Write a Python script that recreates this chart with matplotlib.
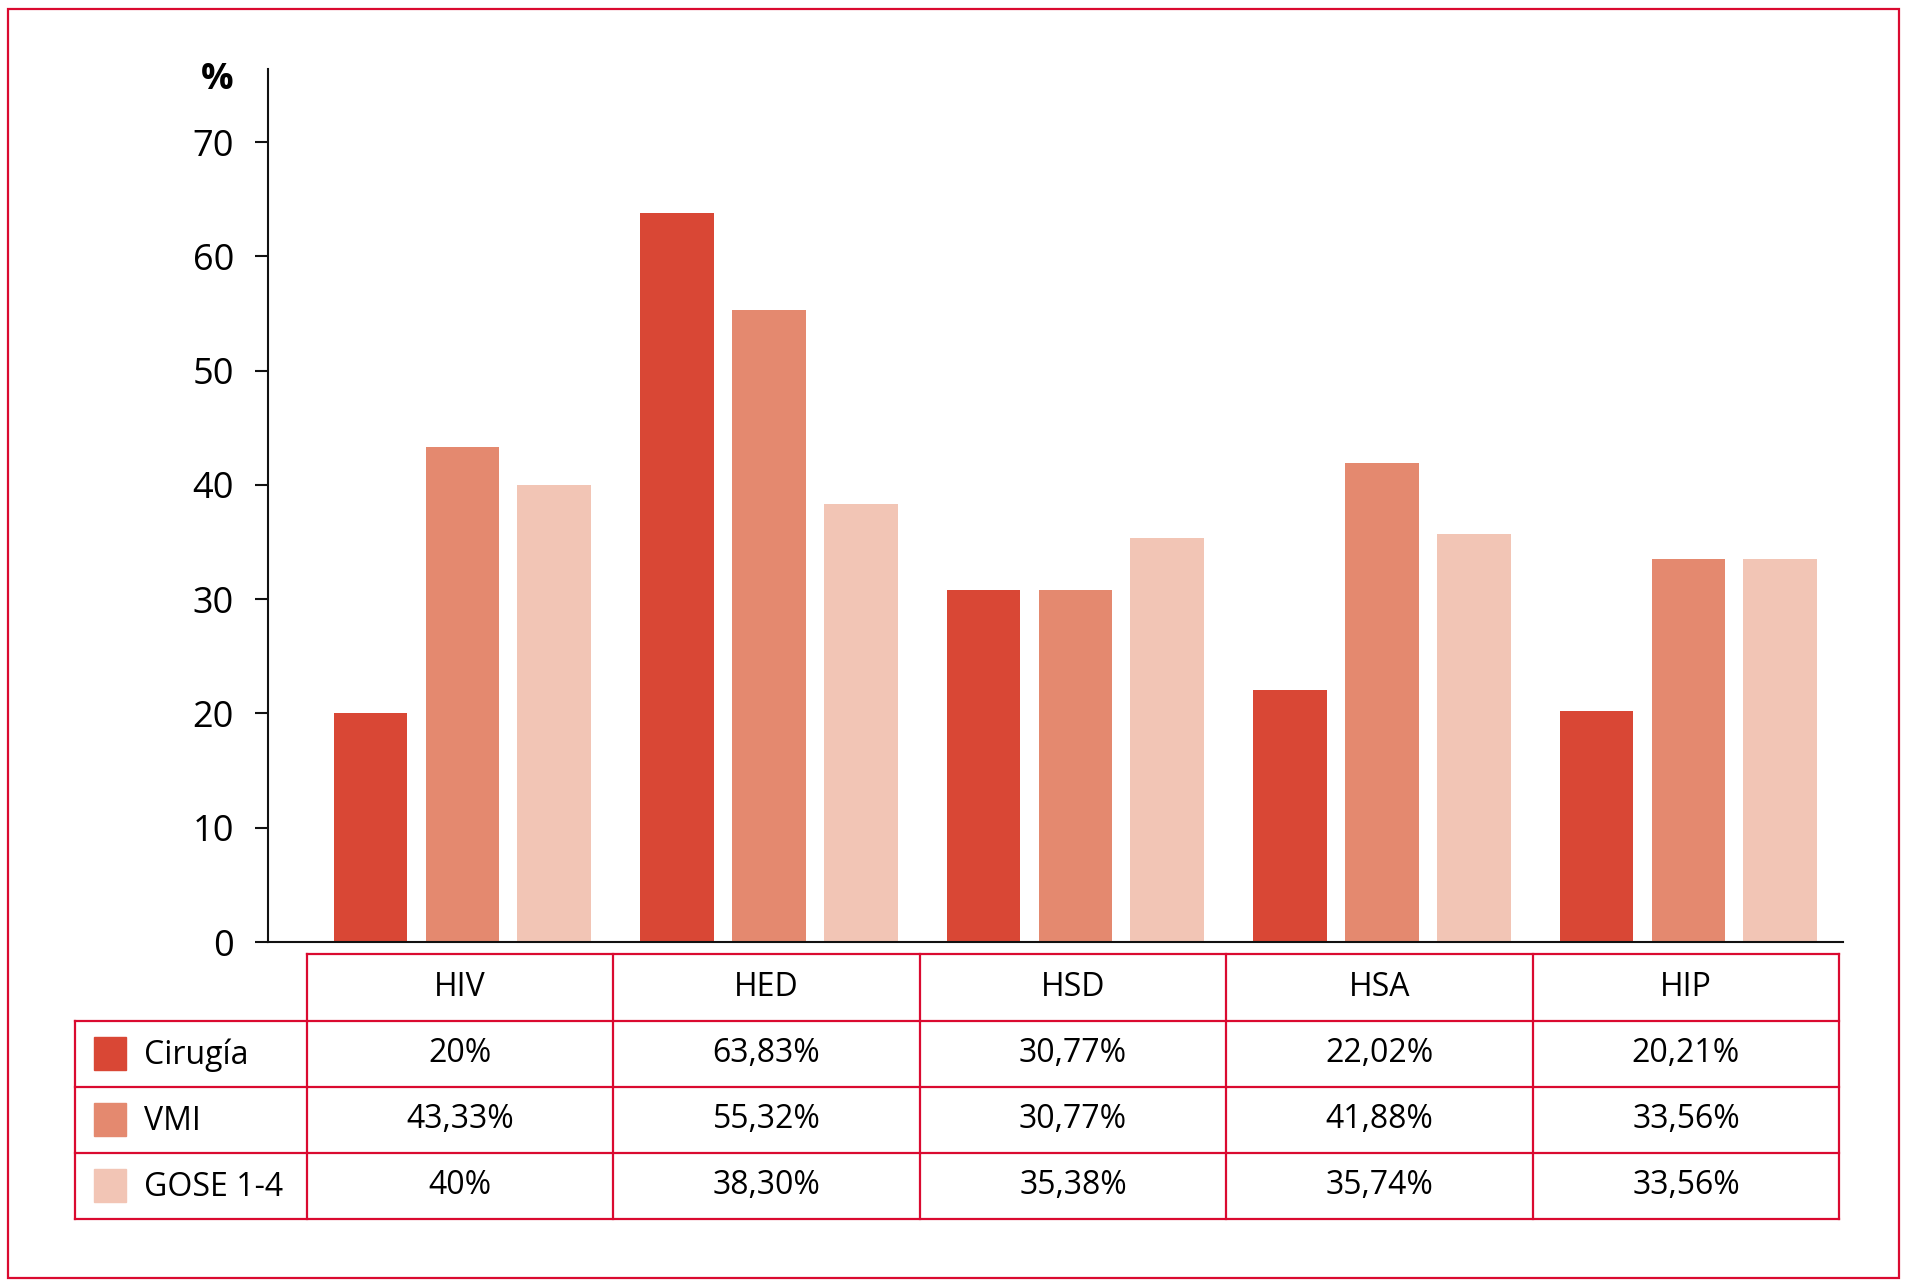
import matplotlib.pyplot as plt
import matplotlib.transforms as mtransforms
from matplotlib.patches import Rectangle

categories = ["HIV", "HED", "HSD", "HSA", "HIP"]
series_names = ["Cirugía", "VMI", "GOSE 1-4"]
cirugia = [20, 63.83, 30.77, 22.02, 20.21]
vmi = [43.33, 55.32, 30.77, 41.88, 33.56]
gose = [40, 38.30, 35.38, 35.74, 33.56]
yticks = [0, 10, 20, 30, 40, 50, 60, 70]

colors = ["#D94735", "#E4896F", "#F2C5B5"]
red = "#DA0A30"
FONT = ["Open Sans", "DejaVu Sans"]
plt.rcParams["font.family"] = FONT

W, H = 1908, 1286
fig = plt.figure(figsize=(W / 100, H / 100), dpi=100)

# pixel geometry of the bar area
ax_l, ax_r, ax_top, ax_bot = 268, 1843, 69, 942
ax = fig.add_axes([ax_l / W, 1 - ax_bot / H, (ax_r - ax_l) / W, (ax_bot - ax_top) / H])

col_w = 306.5
x0 = 460
ax.set_xlim((ax_l - x0) / col_w, (ax_r - x0) / col_w)
ax.set_ylim(0, 76.4)

bw, off, shift = 0.241, 0.30, 0.008
xs = list(range(len(categories)))
for i, vals in enumerate([cirugia, vmi, gose]):
    ax.bar([x + (i - 1) * off + shift for x in xs], vals, width=bw, color=colors[i], zorder=2)

ax.spines[["top", "right"]].set_visible(False)
for s in ["left", "bottom"]:
    ax.spines[s].set_linewidth(1.5)
    ax.spines[s].set_color("#111111")
ax.set_yticks(yticks)
ax.set_yticklabels([str(t) for t in yticks])
ax.tick_params(axis="y", length=9.5, width=1.5, pad=15, labelsize=26, color="#111111")
ax.set_xticks([])

# overlay in figure pixels for frame, "%" label and table
ov = fig.add_axes([0, 0, 1, 1], zorder=3)
ov.set_xlim(0, W)
ov.set_ylim(H, 0)
ov.axis("off")
ov.add_patch(Rectangle((8.5, 8.5), 1890.5, 1269.5, fill=False, ec=red, lw=1.6))
ov.text(217, 80, "%", ha="center", va="center", fontsize=26, fontweight="bold")

# table: x in bar-axis data units, y in pixels
tr = mtransforms.blended_transform_factory(ax.transData, ov.transData)
rows_y = [954, 1020.5, 1086.5, 1152.5, 1219]
left = -0.5
right = len(categories) - 0.5
leg_l = (75 - x0) / col_w
lw = 1.6
ov.plot([left, right], [rows_y[0]] * 2, color=red, lw=lw, transform=tr)
for y in rows_y[1:]:
    ov.plot([leg_l, right], [y, y], color=red, lw=lw, transform=tr)
ov.plot([leg_l, leg_l], [rows_y[1], rows_y[-1]], color=red, lw=lw, transform=tr)
for k in range(len(categories) + 1):
    xv = left + k
    ov.plot([xv, xv], [rows_y[0], rows_y[-1]], color=red, lw=lw, transform=tr)

hy = (rows_y[0] + rows_y[1]) / 2
for x, c in zip(xs, categories):
    ov.text(x, hy, c, ha="center", va="center", fontsize=23, transform=tr)

for r, (name, vals) in enumerate(zip(series_names, [cirugia, vmi, gose])):
    cy = (rows_y[r + 1] + rows_y[r + 2]) / 2
    ov.add_patch(Rectangle((94, cy - 16.5), 32, 33, color=colors[r]))
    ov.text(144, cy + 2, name, ha="left", va="center", fontsize=23)
    for x, v in zip(xs, vals):
        s = f"{v:.0f}" if v == int(v) else f"{v:.2f}"
        s = s.replace(".", ",") + "%"
        ov.text(x, cy, s, ha="center", va="center", fontsize=23, transform=tr)

fig.savefig("out.png", dpi=100)
